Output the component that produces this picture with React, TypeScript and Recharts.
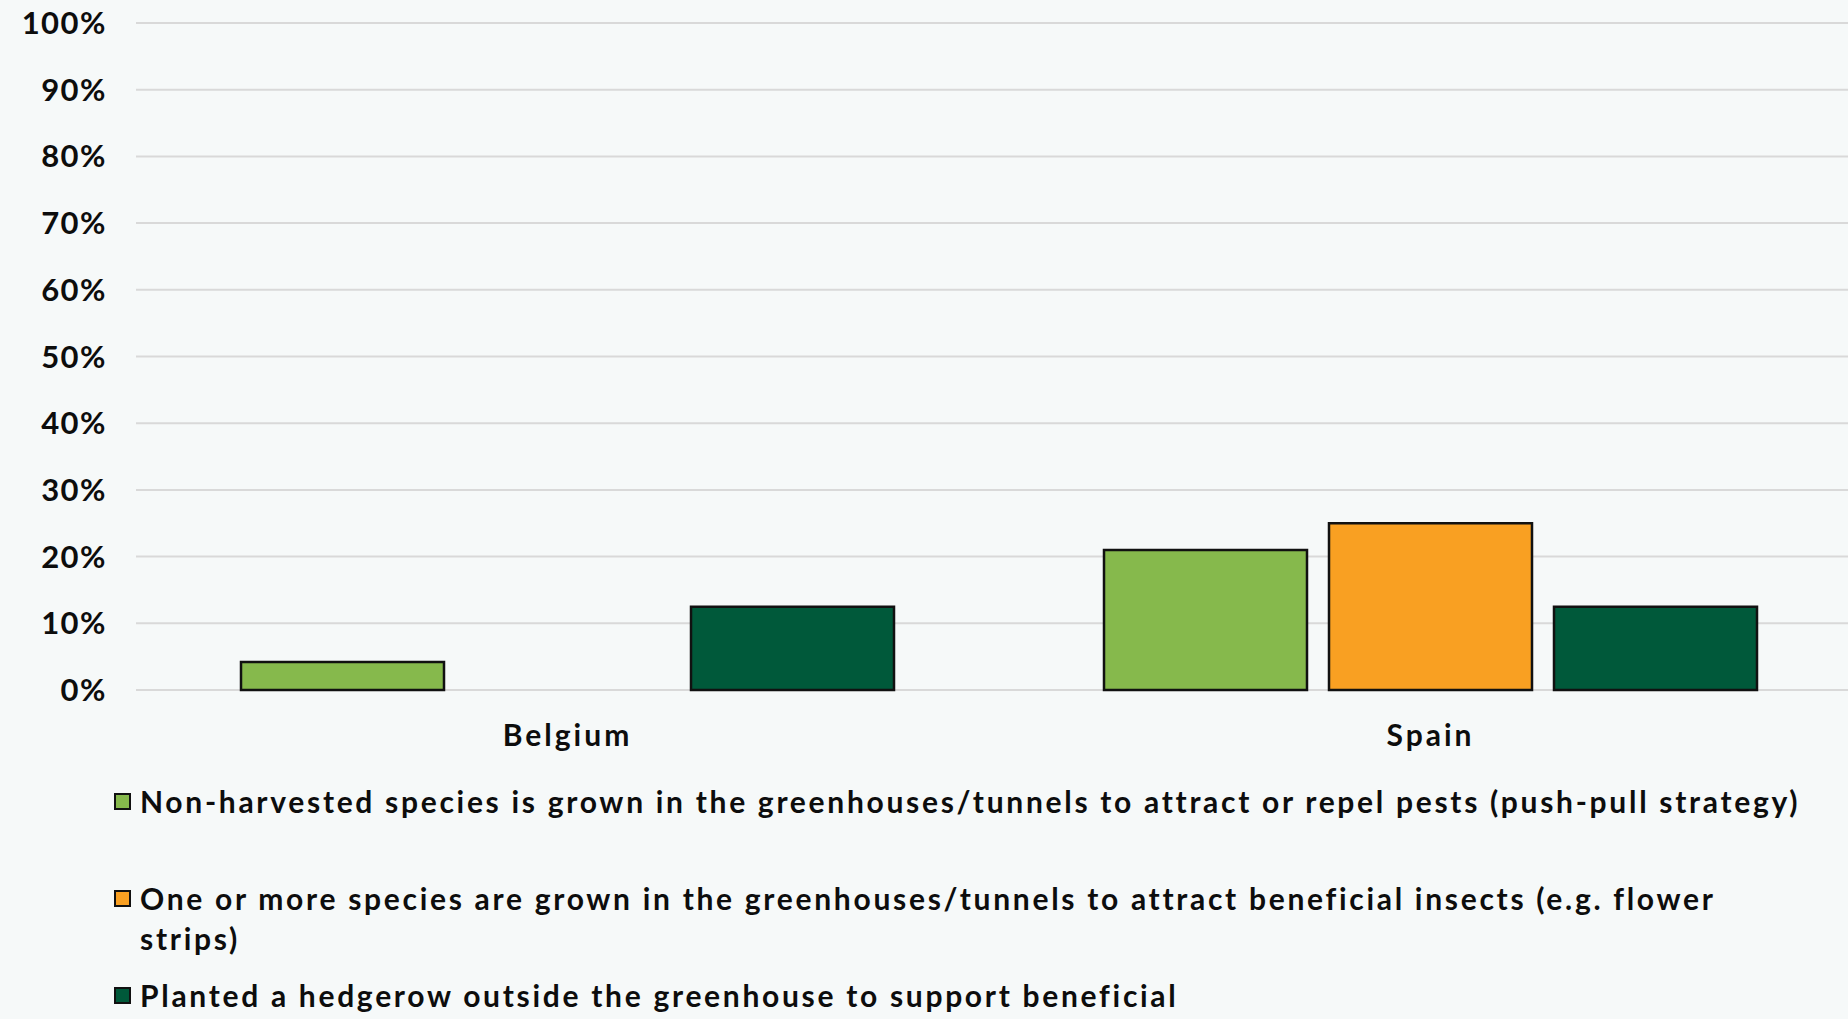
import { BarChart, Bar, XAxis, YAxis, CartesianGrid, Legend } from 'recharts'

const countries = ['Belgium', 'Spain']
// share of respondents, in percent
const pushPull = [4.2, 21]
const flowerStrips = [0, 25]
const hedgerow = [12.5, 12.5]
const yTicks = [0, 10, 20, 30, 40, 50, 60, 70, 80, 90, 100]

const SERIES = [
  {
    key: 'pushPull',
    color: '#86b94c',
    lines: ['Non-harvested species is grown in the greenhouses/tunnels to attract or repel pests (push-pull strategy)'],
  },
  {
    key: 'flowerStrips',
    color: '#f9a022',
    lines: [
      'One or more species are grown in the greenhouses/tunnels to attract beneficial insects (e.g. flower',
      'strips)',
    ],
  },
  {
    key: 'hedgerow',
    color: '#00593a',
    lines: ['Planted a hedgerow outside the greenhouse to support beneficial'],
  },
]

const data = countries.map((country, i) => ({
  country,
  pushPull: pushPull[i],
  flowerStrips: flowerStrips[i],
  hedgerow: hedgerow[i],
}))

const FONT = 'Lato, "DejaVu Sans", sans-serif'

const LegendList = () => (
  <div style={{ fontFamily: FONT, fontWeight: 700, fontSize: 30, letterSpacing: 2.7, color: '#0d0d0d' }}>
    {SERIES.map((s) => (
      <div key={s.key} style={{ height: 80, marginBottom: 17, position: 'relative', paddingLeft: 26 }}>
        <span
          style={{
            position: 'absolute',
            left: 0,
            top: 12,
            width: 13,
            height: 13,
            background: s.color,
            border: '2px solid #111',
          }}
        />
        {s.lines.map((line, idx) => (
          <div key={idx} style={{ height: 40, lineHeight: '40px', whiteSpace: 'nowrap' }}>
            {line}
          </div>
        ))}
      </div>
    ))}
  </div>
)

export default function App() {
  return (
    <div
      style={{
        position: 'absolute',
        left: 0,
        top: 0,
        width: 1848,
        height: 1019,
        overflow: 'hidden',
        background: '#f6f9f9',
      }}
    >
      <BarChart
        width={1880}
        height={1019}
        data={data}
        margin={{ top: 23, right: 18, left: 16, bottom: 269 }}
        barCategoryGap={105}
        barGap={22}
      >
        <CartesianGrid vertical={false} stroke="#d9d9d9" strokeWidth={2} />
        <XAxis
          dataKey="country"
          axisLine={false}
          tickLine={false}
          tickSize={0}
          tickMargin={35}
          height={60}
          tick={{ fill: '#0d0d0d', fontSize: 30, fontWeight: 700, fontFamily: FONT, letterSpacing: 3 }}
        />
        <YAxis
          domain={[0, 100]}
          ticks={yTicks}
          interval={0}
          axisLine={false}
          tickLine={false}
          tickSize={0}
          tickMargin={29}
          width={120}
          tickFormatter={(v) => `${v}%`}
          tick={{ fill: '#0d0d0d', fontSize: 31, fontWeight: 700, fontFamily: FONT, letterSpacing: 1.5 }}
        />
        <Legend
          layout="vertical"
          align="center"
          verticalAlign="middle"
          wrapperStyle={{ left: 114, top: 781, width: 1734 }}
          content={<LegendList />}
        />
        {SERIES.map((s) => (
          <Bar
            key={s.key}
            dataKey={s.key}
            fill={s.color}
            stroke="#111"
            strokeWidth={2.5}
            isAnimationActive={false}
          />
        ))}
      </BarChart>
    </div>
  )
}
